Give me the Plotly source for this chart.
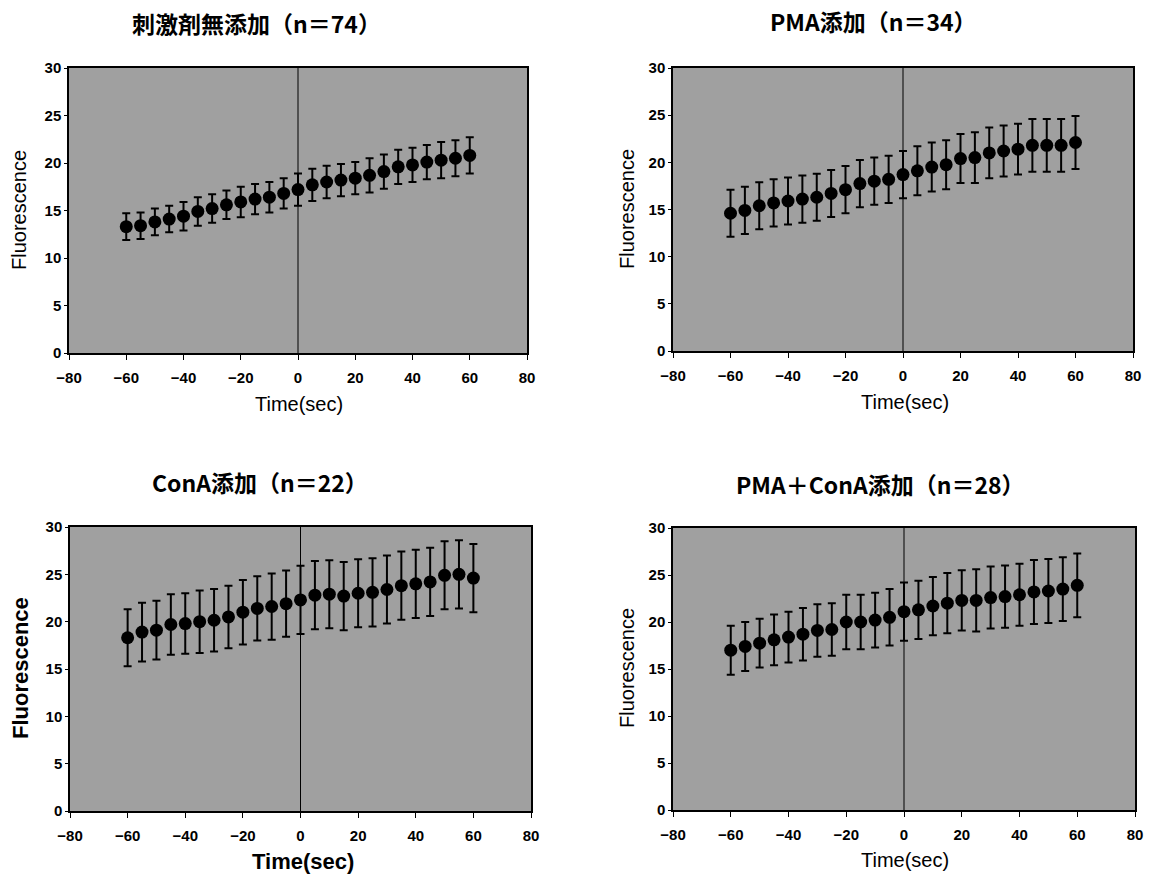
import plotly.graph_objects as go

times = [-60, -55, -50, -45, -40, -35, -30, -25, -20, -15, -10, -5, 0,
         5, 10, 15, 20, 25, 30, 35, 40, 45, 50, 55, 60]

titles = ["刺激剤無添加（n＝74）", "PMA添加（n＝34）", "ConA添加（n＝22）", "PMA＋ConA添加（n＝28）"]

p1_mean = [13.3, 13.4, 13.8, 14.1, 14.4, 14.9, 15.2, 15.6, 15.9, 16.2, 16.4, 16.8, 17.2,
           17.7, 18.0, 18.2, 18.4, 18.7, 19.1, 19.6, 19.8, 20.1, 20.3, 20.5, 20.8]
p1_err = [1.4, 1.4, 1.4, 1.4, 1.5, 1.5, 1.5, 1.5, 1.6, 1.6, 1.6, 1.6, 1.7,
          1.7, 1.7, 1.7, 1.7, 1.8, 1.8, 1.8, 1.8, 1.8, 1.9, 1.9, 1.9]

p2_mean = [14.6, 14.9, 15.4, 15.7, 15.9, 16.1, 16.3, 16.7, 17.1, 17.75, 18.0, 18.2, 18.7,
           19.1, 19.5, 19.75, 20.4, 20.5, 21.0, 21.2, 21.4, 21.8, 21.8, 21.8, 22.1]
p2_err = [2.5, 2.5, 2.5, 2.5, 2.5, 2.5, 2.5, 2.5, 2.5, 2.5, 2.5, 2.5, 2.5,
          2.6, 2.6, 2.6, 2.6, 2.7, 2.7, 2.7, 2.7, 2.8, 2.8, 2.8, 2.8]

p3_mean = [18.3, 18.9, 19.1, 19.7, 19.8, 20.0, 20.15, 20.5, 21.0, 21.4, 21.6, 21.9, 22.3,
           22.8, 22.9, 22.7, 23.0, 23.1, 23.4, 23.8, 24.0, 24.2, 24.9, 25.0, 24.6]
p3_err = [3.0, 3.1, 3.1, 3.2, 3.2, 3.3, 3.3, 3.3, 3.4, 3.4, 3.5, 3.5, 3.6,
          3.6, 3.6, 3.6, 3.6, 3.6, 3.6, 3.6, 3.6, 3.6, 3.6, 3.6, 3.6]

p4_mean = [17.0, 17.4, 17.75, 18.1, 18.4, 18.7, 19.1, 19.2, 20.0, 20.0, 20.2, 20.5, 21.1,
           21.3, 21.7, 22.0, 22.3, 22.3, 22.6, 22.7, 22.9, 23.2, 23.3, 23.5, 23.9]
p4_err = [2.6, 2.6, 2.6, 2.7, 2.7, 2.8, 2.8, 2.8, 2.9, 2.9, 2.9, 3.0, 3.1,
          3.1, 3.1, 3.2, 3.2, 3.3, 3.3, 3.3, 3.3, 3.4, 3.4, 3.4, 3.4]

x_ticks = [-80, -60, -40, -20, 0, 20, 40, 60, 80]
y_ticks = [0, 5, 10, 15, 20, 25, 30]

W, H = 1152, 877
means = [p1_mean, p2_mean, p3_mean, p4_mean]
errs = [p1_err, p2_err, p3_err, p4_err]

# plot areas in pixels: (left, right, top, bottom)
areas = [(69, 527, 68, 353), (673, 1133, 68, 351), (70, 531, 527, 811), (673, 1135, 528, 810)]
title_pos = [(256, 23), (873, 21), (260, 482), (880, 484)]
xt_pos = [(299, 404), (905, 402), (303, 861), (905, 860)]
yt_pos = [(19, 210), (627, 209), (20, 668), (627, 668)]

BG = "#a0a0a0"
TICKFONT = dict(family="Liberation Sans, Arial", size=15, color="black", weight="bold")

fig = go.Figure()
annotations = []
shapes = []
layout = {}
for i in range(4):
    sfx = "" if i == 0 else str(i + 1)
    fig.add_trace(go.Scatter(
        x=times, y=means[i], mode="markers",
        marker=dict(color="black", size=13, symbol="circle"),
        error_y=dict(type="data", array=errs[i], visible=True, color="black", thickness=2, width=4),
        xaxis="x" + sfx, yaxis="y" + sfx, showlegend=False, hoverinfo="skip"))
    l, r, t, b = areas[i]
    layout["xaxis" + sfx] = dict(
        domain=[l / W, r / W], anchor="y" + sfx, range=[-80, 80], automargin=False,
        tickvals=x_ticks, ticktext=[("−" + str(-v)) if v < 0 else str(v) for v in x_ticks],
        ticks="outside", ticklen=5, tickwidth=1, tickcolor="black", ticklabelstandoff=5,
        showline=True, linecolor="black", linewidth=2, mirror=True,
        showgrid=False, zeroline=False, tickfont=TICKFONT, fixedrange=True)
    layout["yaxis" + sfx] = dict(
        domain=[1 - b / H, 1 - t / H], anchor="x" + sfx, range=[0, 30], automargin=False,
        tickvals=y_ticks, ticks="outside", ticklen=3, tickwidth=1, tickcolor="black",
        showline=True, linecolor="black", linewidth=1.5, mirror=True,
        showgrid=False, zeroline=False, tickfont=TICKFONT, fixedrange=True)
    shapes.append(dict(type="line", xref="x" + sfx, yref="y" + sfx + " domain",
                       x0=0, x1=0, y0=0, y1=1, line=dict(color="black", width=1)))
    tx, ty = title_pos[i]
    annotations.append(dict(text=titles[i], x=tx / W, y=1 - ty / H, xref="paper", yref="paper",
                            xanchor="center", yanchor="middle", showarrow=False,
                            font=dict(family="Noto Sans CJK JP", size=23, color="black", weight="bold")))
    xx, xy = xt_pos[i]
    bold3 = (i == 2)
    annotations.append(dict(text="Time(sec)", x=xx / W, y=1 - xy / H, xref="paper", yref="paper",
                            xanchor="center", yanchor="middle", showarrow=False,
                            font=dict(family="Liberation Sans, Arial", size=20 if not bold3 else 22,
                                      color="black", weight="bold" if bold3 else "normal")))
    yx, yy = yt_pos[i]
    annotations.append(dict(text="Fluorescence", x=yx / W, y=1 - yy / H, xref="paper", yref="paper",
                            xanchor="center", yanchor="middle", showarrow=False, textangle=-90,
                            font=dict(family="Liberation Sans, Arial", size=20 if not bold3 else 22,
                                      color="black", weight="bold" if bold3 else "normal")))

fig.update_layout(width=W, height=H, margin=dict(l=0, r=0, t=0, b=0),
                  paper_bgcolor="white", plot_bgcolor=BG,
                  annotations=annotations, shapes=shapes, **layout)
fig.write_html("out.html")
